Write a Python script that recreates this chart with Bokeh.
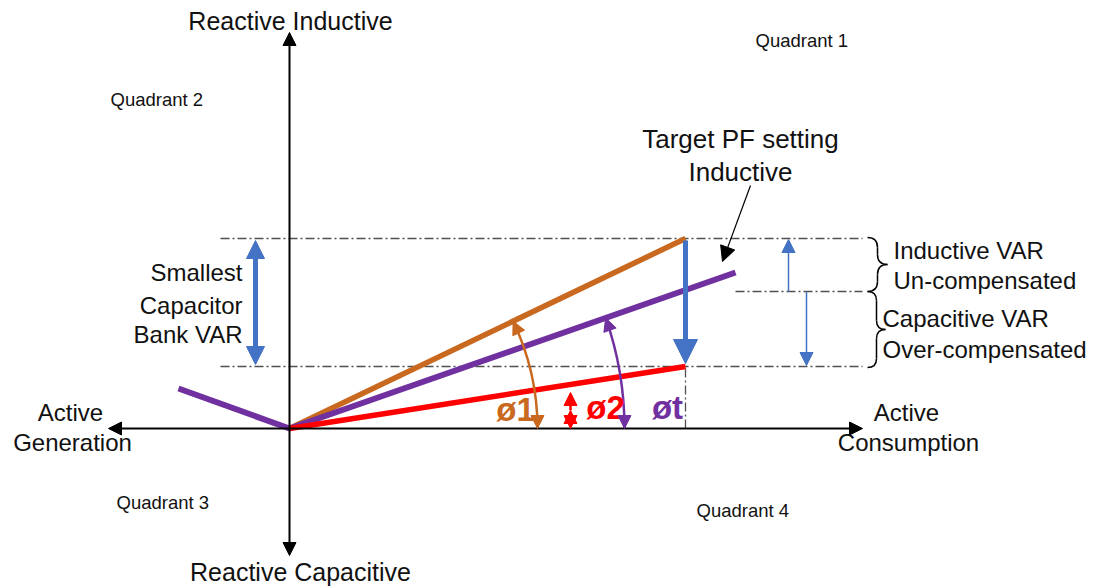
import math
from bokeh.plotting import figure
from bokeh.models import Range1d, Arrow, NormalHead
from bokeh.core.properties import value
from bokeh.embed import file_html
from bokeh.resources import INLINE

# ---- values (origin = 0,0 ; active to the right, reactive up) ----
active_power = 396          # operating point, active power
q_uncompensated = 190       # inductive VAR before compensation (orange end)
q_target = 137              # VAR at target PF (purple line at active_power)
q_compensated = 62          # VAR after switching smallest capacitor bank (red end)
target_line_x = [-111, 0, 446]
target_line_y = [40, 0, 156]
p_axis_limits = [-181, 573]
q_axis_limits = [-127, 396]

FONT = value("Liberation Sans")
ORANGE = "#C9681F"
PURPLE = "#7030A0"
RED = "#FF0000"
BLUE = "#4472C4"

p = figure(width=1099, height=588, x_range=Range1d(-289, 810), y_range=Range1d(-160, 428),
           toolbar_location=None, output_backend="svg", min_border=0,
           x_axis_location=None, y_axis_location=None)
p.grid.visible = False
p.outline_line_color = None
p.background_fill_color = "white"


def arrow(x0, y0, x1, y1, color, lw, size, both=False):
    head = NormalHead(size=size, fill_color=color, line_color=color, line_width=1)
    kw = dict(end=head, x_start=x0, y_start=y0, x_end=x1, y_end=y1,
              line_color=color, line_width=lw)
    if both:
        kw["start"] = NormalHead(size=size, fill_color=color, line_color=color, line_width=1)
    p.add_layout(Arrow(**kw))


# ---- dash-dot guide lines ----
dd = "9 3 2 3"
p.segment(x0=[-69, -69, target_line_x[2], active_power], y0=[q_uncompensated, q_compensated, q_target, 0],
          x1=[p_axis_limits[1], p_axis_limits[1], p_axis_limits[1], active_power],
          y1=[q_uncompensated, q_compensated, q_target, q_compensated],
          line_color="#505050", line_width=1.3, line_dash=dd)

# ---- axes ----
arrow(0, 0, p_axis_limits[0], 0, "black", 2, 13)
arrow(0, 0, p_axis_limits[1], 0, "black", 2, 13)
arrow(0, 0, 0, q_axis_limits[0], "black", 2, 13)
arrow(0, 0, 0, q_axis_limits[1], "black", 2, 13)

# ---- power vectors ----
p.line(x=[0, active_power], y=[0, q_uncompensated], line_color=ORANGE, line_width=5.5)
p.line(x=target_line_x, y=target_line_y, line_color=PURPLE, line_width=6)
p.line(x=[0, active_power], y=[0, q_compensated], line_color=RED, line_width=5.5)

# ---- blue VAR arrows ----
arrow(active_power, q_uncompensated - 2, active_power, q_compensated + 3, BLUE, 5, 24)
arrow(-34, q_compensated + 2, -34, q_uncompensated - 2, BLUE, 5, 18, both=True)
arrow(499, q_target, 499, q_uncompensated - 1, BLUE, 1.5, 13)
arrow(517, q_target, 517, q_compensated + 1, BLUE, 1.5, 13)

# ---- angle arcs ----
def angle_arc(r, slope_y, slope_x, color):
    th = math.atan2(slope_y, slope_x)
    p.arc(x=0, y=0, radius=r, start_angle=0, end_angle=th, line_color=color, line_width=2.5)
    tx, ty = r * math.cos(th), r * math.sin(th)
    d = 10
    arrow(tx + d * math.sin(th), ty - d * math.cos(th), tx, ty, color, 2.5, 13)
    arrow(r, d, r, 0, color, 2.5, 13)

angle_arc(248, q_uncompensated, active_power, ORANGE)
angle_arc(335, target_line_y[2], target_line_x[2], PURPLE)
arrow(281, 18, 281, 0, RED, 2.5, 13, both=True)
arrow(281, 18, 281, 36, RED, 2.5, 13)

# ---- pointer arrow ----
arrow(461, 243, 433, 167, "black", 1.2, 15)

# ---- braces ----
def brace(a, w, yt, yb):
    ym = (yt + yb) / 2
    h = w / 2
    q = min(h, (yt - yb) / 4)
    qx0 = [a, a + h, a + w, a + h]
    qy0 = [yt, ym + q, ym, yb + q]
    qx1 = [a + h, a + w, a + h, a]
    qy1 = [yt - q, ym, ym - q, yb]
    qcx = [a + h, a + h, a + h, a + h]
    qcy = [yt, ym, ym, yb]
    p.quadratic(x0=qx0, y0=qy0, x1=qx1, y1=qy1, cx=qcx, cy=qcy, line_color="black", line_width=1.5)
    p.segment(x0=[a + h, a + h], y0=[yt - q, ym - q], x1=[a + h, a + h], y1=[ym + q, yb + q],
              line_color="black", line_width=1.5)

brace(578, 20, q_uncompensated + 1, q_target)
brace(578, 18, q_target, q_compensated - 1)

# ---- texts ----
def txt(x, y, s, size, align="left", color="#111111", style="normal"):
    p.text(x=[x], y=[y], text=[s], text_font=FONT, text_font_size=size, text_align=align,
           text_baseline="middle", text_color=color, text_font_style=style)

txt(1, 408, "Reactive Inductive", "25px", "center")
txt(11, -143, "Reactive Capacitive", "25px", "center")
txt(466, 388, "Quadrant  1", "18.5px")
txt(-179, 329, "Quadrant  2", "18.5px")
txt(-173, -74, "Quadrant  3", "18.5px")
txt(407, -82, "Quadrant  4", "18.5px")
txt(451, 290, "Target PF setting", "26px", "center")
txt(451, 257, "Inductive", "26px", "center")
txt(-47, 156, "Smallest", "24px", "right")
txt(-47, 123, "Capacitor", "24px", "right")
txt(-47, 94, "Bank VAR", "24px", "right")
txt(604, 178, "Inductive VAR", "24px")
txt(604, 148, "Un-compensated", "24px")
txt(593, 110, "Capacitive VAR", "24px")
txt(593, 79, "Over-compensated", "24px")
txt(-219, 16, "Active", "24px", "center")
txt(-217, -14, "Generation", "24px", "center")
txt(617, 16, "Active", "24px", "center")
txt(619, -14, "Consumption", "24px", "center")
txt(226, 19, "ø1", "33px", "center", ORANGE, "bold")
txt(316, 21, "ø2", "33px", "center", RED, "bold")
txt(378, 21, "øt", "33px", "center", PURPLE, "bold")

open("out.html", "w").write(file_html(p, INLINE))
